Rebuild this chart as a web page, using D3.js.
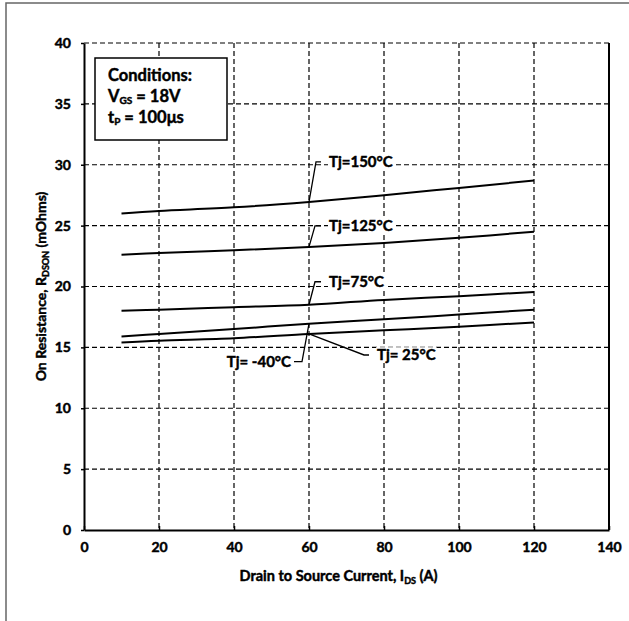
<!DOCTYPE html>
<html>
<head>
<meta charset="utf-8">
<script src="https://cdn.jsdelivr.net/npm/d3@7"></script>
<style>
  body { margin: 0; background: #fff; }
  text { font-family: Lato, "Open Sans", sans-serif; font-weight: bold; fill: #000; stroke: #000; stroke-width: 0.45px; }
</style>
</head>
<body>
<div id="chart"></div>
<script>
// Chart data
var currents = [10, 20, 40, 60, 80, 100, 120];
var rTm40 = [15.9, 16.1, 16.5, 16.95, 17.3, 17.7, 18.1];
var rT25 = [15.4, 15.55, 15.75, 16.1, 16.4, 16.7, 17.05];
var rT75 = [18.0, 18.1, 18.3, 18.5, 18.9, 19.2, 19.55];
var rT125 = [22.6, 22.75, 22.97, 23.25, 23.58, 24.0, 24.5];
var rT150 = [26.0, 26.2, 26.5, 26.95, 27.5, 28.1, 28.7];
var xTicks = [0, 20, 40, 60, 80, 100, 120, 140];
var yTicks = [0, 5, 10, 15, 20, 25, 30, 35, 40];
var seriesNames = ["Tj= -40°C", "Tj= 25°C", "Tj=75°C", "Tj=125°C", "Tj=150°C"];

// SVG size and plot margins
var svgWidth = 629;
var svgHeight = 621;
var margin = { top: 43, right: 20, bottom: 91, left: 84 };
var width = svgWidth - margin.left - margin.right;
var height = svgHeight - margin.top - margin.bottom;

var svg = d3.select("#chart")
  .append("svg")
  .attr("width", svgWidth)
  .attr("height", svgHeight);

// outer frame
svg.append("rect")
  .attr("x", 6)
  .attr("y", 3)
  .attr("width", 660)
  .attr("height", 660)
  .attr("fill", "none")
  .attr("stroke", "#666")
  .attr("stroke-width", 1.5);

var chartGroup = svg.append("g")
  .attr("transform", `translate(${margin.left}, ${margin.top})`);

var xScale = d3.scaleLinear().domain([0, 140]).range([0, width]);
var yScale = d3.scaleLinear().domain([0, 40]).range([height, 0]);

// dashed grid
chartGroup.append("g")
  .selectAll("line")
  .data(xTicks.slice(1, -1))
  .enter()
  .append("line")
  .attr("x1", d => xScale(d))
  .attr("x2", d => xScale(d))
  .attr("y1", 0)
  .attr("y2", height)
  .attr("stroke", "#000")
  .attr("stroke-width", 1.2)
  .attr("stroke-dasharray", "5,3");

chartGroup.append("g")
  .selectAll("line")
  .data(yTicks.slice(1))
  .enter()
  .append("line")
  .attr("x1", 0)
  .attr("x2", width)
  .attr("y1", d => yScale(d))
  .attr("y2", d => yScale(d))
  .attr("stroke", "#000")
  .attr("stroke-width", 1.2)
  .attr("stroke-dasharray", "5,3");

// axes
var bottomAxis = d3.axisBottom(xScale)
  .tickValues(xTicks)
  .tickSizeInner(-4)
  .tickSizeOuter(0)
  .tickPadding(12);
var leftAxis = d3.axisLeft(yScale)
  .tickValues(yTicks)
  .tickSizeInner(3)
  .tickSizeOuter(0)
  .tickPadding(10);

var xAxis = chartGroup.append("g")
  .attr("transform", `translate(0, ${height})`)
  .call(bottomAxis);
var yAxis = chartGroup.append("g")
  .call(leftAxis);

[xAxis, yAxis].forEach(ax => {
  ax.select(".domain").attr("stroke", "#000").attr("stroke-width", 2);
  ax.selectAll(".tick line").attr("stroke", "#000").attr("stroke-width", 1.5);
  ax.selectAll(".tick text")
    .attr("font-size", 14)
    .attr("font-family", "Lato, sans-serif")
    .attr("font-weight", "bold");
});

// right side border
chartGroup.append("line")
  .attr("x1", width)
  .attr("x2", width)
  .attr("y1", 0)
  .attr("y2", height)
  .attr("stroke", "#000")
  .attr("stroke-width", 2);

// curves
var line = d3.line()
  .x(d => xScale(d[0]))
  .y(d => yScale(d[1]))
  .curve(d3.curveCatmullRom);

[rTm40, rT25, rT75, rT125, rT150].forEach(vals => {
  chartGroup.append("path")
    .datum(currents.map((c, i) => [c, vals[i]]))
    .attr("d", line)
    .attr("fill", "none")
    .attr("stroke", "#000")
    .attr("stroke-width", 2);
});

// leader lines and curve labels (anchor on the curve at 60 A)
function leader(vals, pts) {
  var x0 = xScale(60), y0 = yScale(vals[3]);
  var p = [[x0, y0]].concat(pts.map(q => [x0 + q[0], y0 + q[1]]));
  chartGroup.append("path")
    .attr("d", d3.line()(p))
    .attr("fill", "none")
    .attr("stroke", "#000")
    .attr("stroke-width", 1.3);
  return p[p.length - 1];
}

function curveLabel(pos, txt, anchor) {
  var t = chartGroup.append("text")
    .attr("x", pos[0] + (anchor === "end" ? -3 : 8))
    .attr("y", pos[1])
    .attr("dy", "0.35em")
    .attr("text-anchor", anchor)
    .attr("font-size", 15)
    .text(txt);
  // white patch behind the label hides the grid
  var bb = t.node().getBBox();
  chartGroup.insert("rect", () => t.node())
    .attr("x", bb.x - 1)
    .attr("y", bb.y + 2)
    .attr("width", bb.width + 2)
    .attr("height", bb.height - 4)
    .attr("fill", "#fff");
}

var p150 = leader(rT150, [[7, -40], [12, -40]]);
curveLabel(p150, seriesNames[4], "start");
var p125 = leader(rT125, [[6, -21], [12, -21]]);
curveLabel(p125, seriesNames[3], "start");
var p75 = leader(rT75, [[6, -23], [12, -23]]);
curveLabel(p75, seriesNames[2], "start");
var pm40 = leader(rTm40, [[-7, 38], [-15, 38]]);
curveLabel(pm40, seriesNames[0], "end");
var p25 = leader(rT25, [[55, 21], [60, 21]]);
curveLabel(p25, seriesNames[1], "start");

// conditions box
svg.append("rect")
  .attr("x", 95)
  .attr("y", 58)
  .attr("width", 132)
  .attr("height", 82)
  .attr("fill", "#fff")
  .attr("stroke", "#000")
  .attr("stroke-width", 1.5);

var cond = svg.append("g").attr("font-size", 16.5);
cond.append("text").attr("x", 108).attr("y", 81).text("Conditions:");
var vgs = cond.append("text").attr("x", 108).attr("y", 102);
vgs.append("tspan").text("V");
vgs.append("tspan").attr("font-size", 10).attr("dy", 2).text("GS");
vgs.append("tspan").attr("dy", -2).text(" = 18V");
var tp = cond.append("text").attr("x", 108).attr("y", 123);
tp.append("tspan").text("t");
tp.append("tspan").attr("font-size", 10).attr("dy", 2).text("P");
tp.append("tspan").attr("dy", -2).text(" = 100μs");

// axis titles
var xTitle = svg.append("text")
  .attr("x", margin.left + width / 2 - 8)
  .attr("y", 581)
  .attr("text-anchor", "middle")
  .attr("font-size", 14.5);
xTitle.append("tspan").text("Drain to Source Current, I");
xTitle.append("tspan").attr("font-size", 9).attr("dy", 3).text("DS");
xTitle.append("tspan").attr("dy", -3).text(" (A)");

var yTitle = svg.append("text")
  .attr("transform", `translate(46, ${margin.top + height / 2}) rotate(-90)`)
  .attr("text-anchor", "middle")
  .attr("font-size", 14);
yTitle.append("tspan").text("On Resistance, R");
yTitle.append("tspan").attr("font-size", 9).attr("dy", 3).text("DSON");
yTitle.append("tspan").attr("dy", -3).text(" (mOhms)");
</script>
</body>
</html>
